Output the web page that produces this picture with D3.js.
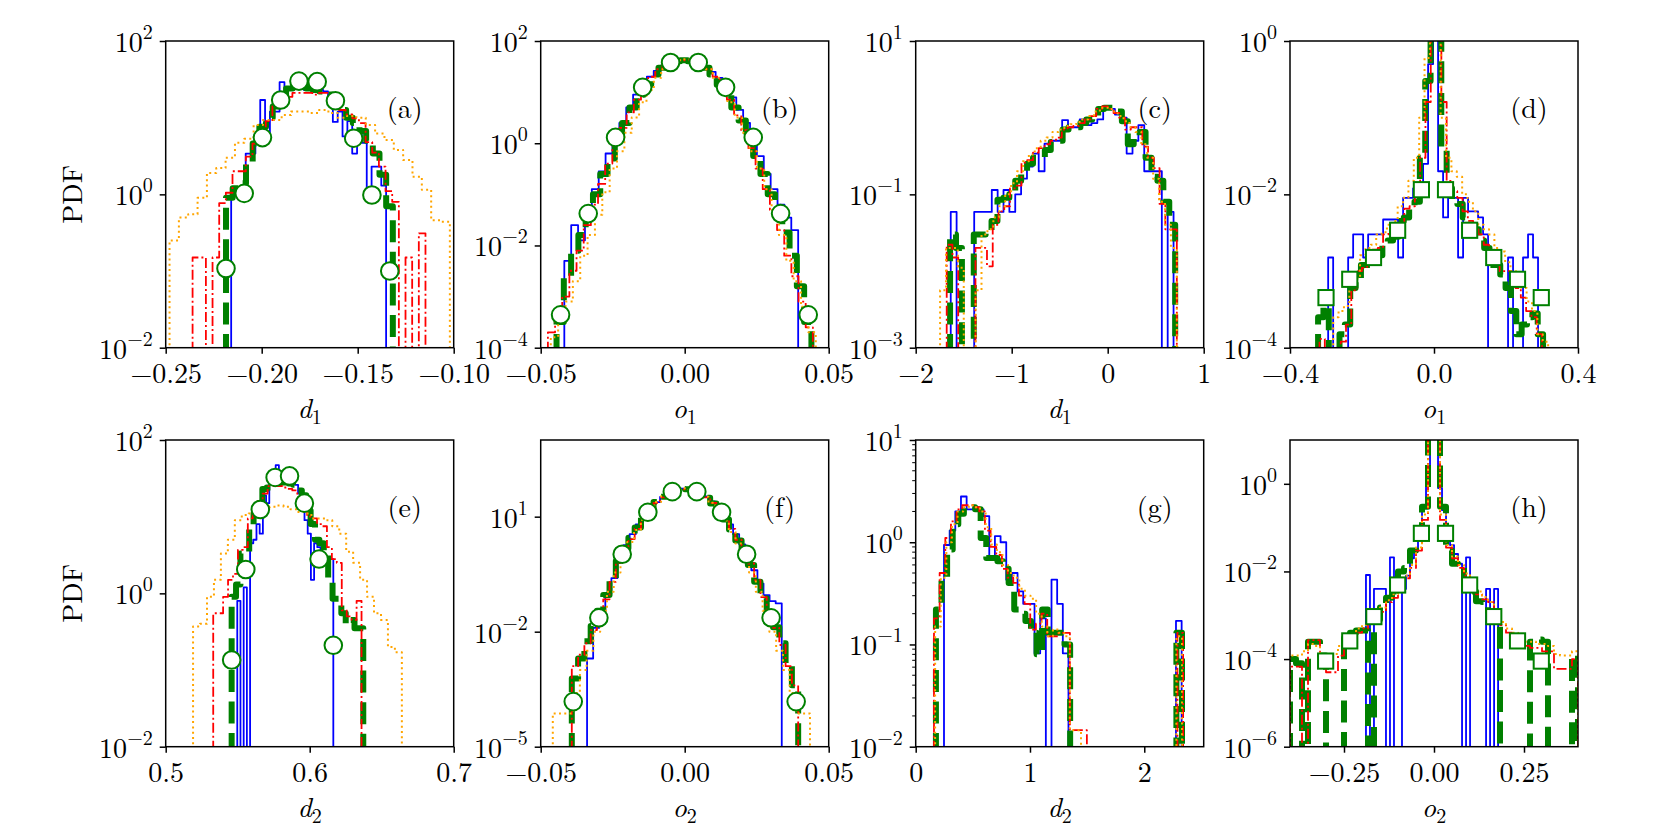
<!DOCTYPE html>
<html>
<head>
<meta charset="utf-8">
<script src="https://cdn.jsdelivr.net/npm/d3@7"></script>
<style>
  body { margin: 0; background: #fff; }
</style>
</head>
<body>
<svg id="fig" width="1661" height="830"></svg>
<script>
// each histogram: bin range [lo, hi] and the PDF value of every bin (0 = empty bin)

// (a) d1
var a_blue = {range: [-0.2159, -0.1352], pdf: [1.0,1.0,1.0,3.4,3.4,5.1,17,5.5,12,12,29,24,24,25,24,23,24,24,23,22,18,8.8,12,5.7,9,3.4,6,4.7,1.0,2.3,2.3,1.3]};
var a_green = {range: [-0.2186, -0.1317], pdf: [0.9,1.2,1.4,2.6,4.6,7.6,10,14,17,24,25,25,24,23,22,20,16,12.6,10,8.5,6.7,5,3.4,1.8,0.7]};
var a_red = {range: [-0.236, -0.1147], pdf: [0.15,0.15,0,0.15,0.77,1.05,2.0,2.0,3.1,4.6,6.2,9,14,15,18.7,21,21,21,20,21,21,19,12.6,11,9.8,8.5,4.8,3.5,2.3,1.1,0.8,0,0.15,0,0.31]};
var a_orange = {range: [-0.248, -0.102], pdf: [0.25,0.5,0.55,0.9,1.9,2.2,3.0,4.7,5.3,8,9.3,9.3,10.8,12,12,11.5,12.6,11.5,10,10.5,10,8,6.2,5.1,3.8,2.8,1.7,1.15,0.46,0.44]};
var aMarkX = [-0.2186,-0.2091,-0.1996,-0.1901,-0.1806,-0.1711,-0.1616,-0.1521,-0.1426,-0.1333];
var aMarkY = [0.108,1.03,5.5,17,30,29.5,16.6,5.4,0.98,0.1];

// (b) o1
var b_blue = {range: [-0.0418, 0.0394], pdf: [0.005,0.025,0.0126,0.056,0.126,0.28,0.63,1.41,2.5,5,8.9,12.6,20,26,33,38,42,42,40,36,32,25,19,13,7.9,4.5,2.5,1.26,0.56,0.25,0.126,0.063,0.035,0.02]};
var b_green = {range: [-0.0445, 0.044], pdf: [3.2e-4,2.5e-3,7.9e-3,0.016,0.04,0.1,0.25,0.5,1.1,2.5,5,8.9,14,22,30,37,40,42,40,37,30,22,14,8.9,5,2.8,1.26,0.56,0.25,0.1,0.04,0.018,6.3e-3,1.6e-3,3.2e-4]};
var b_red = {range: [-0.0475, 0.0445], pdf: [2e-4,4e-4,1e-3,3.2e-3,7.9e-3,0.025,0.063,0.16,0.4,1.0,2.0,4.0,7.1,12.6,20,28,35,40,42,42,40,35,28,20,12.6,7.1,3.5,1.8,0.8,0.32,0.126,0.05,0.02,6.3e-3,2.5e-3,8e-4,2.5e-4]};
var b_orange = {range: [-0.0465, 0.0455], pdf: [1.6e-4,3.2e-4,8e-4,2e-3,6.3e-3,0.016,0.04,0.11,0.32,0.7,1.6,3.2,6.3,11,19,28,36,42,44,42,36,28,19,11,6.3,3.2,1.6,0.7,0.32,0.126,0.05,0.016,5e-3,2e-3,6.3e-4,2e-4]};
var bMarkX = [-0.0431,-0.0335,-0.024,-0.0146,-0.0049,0.0047,0.0142,0.0238,0.0333,0.0429];
var bMarkY = [4.4e-4,0.042,1.3,12.4,38,38,12.4,1.3,0.042,4.4e-4];

// (c) d1
var c_blue = {range: [-1.635, 0.686], pdf: [0.059,0,0,0,0.059,0.059,0.059,0.114,0.059,0.114,0.059,0.1,0.16,0.23,0.34,0.2,0.46,0.5,0.5,0.93,0.75,0.75,0.95,0.8,0.85,0.95,1.4,1.3,1.1,1.0,0.34,0.5,0.8,0.2,0.2,0.2,0,0.059]};
var c_green = {range: [-1.642, 0.703], pdf: [0.03,0.02,0,0,0.03,0.03,0.032,0.045,0.085,0.09,0.1,0.15,0.2,0.25,0.3,0.3,0.38,0.48,0.5,0.7,0.75,0.75,0.85,0.95,1.05,1.3,1.35,1.35,1.2,0.9,0.45,0.55,0.65,0.3,0.17,0.15,0.08,0.04]};
var c_red = {range: [-1.677, 0.72], pdf: [0.022,0.015,0,0,0,0.02,0.02,0.0115,0.04,0.06,0.07,0.12,0.13,0.26,0.28,0.35,0.4,0.45,0.5,0.55,0.7,0.75,0.78,0.85,0.95,1.05,1.3,1.4,1.3,1.15,1.0,0.7,0.75,0.75,0.42,0.3,0.22,0.075,0.035,0.035]};
var c_orange = {range: [-1.746, 0.72], pdf: [0.0056,0.02,0.02,0.011,0,0,0.0056,0.03,0.035,0.05,0.07,0.1,0.14,0.2,0.27,0.33,0.4,0.5,0.55,0.65,0.7,0.78,0.82,0.88,0.95,1.05,1.2,1.35,1.35,1.2,1.05,0.9,0.75,0.65,0.45,0.3,0.16,0.08,0.04,0.02]};

// (d) o1
var d_blue = {range: [-0.294, 0.289], pdf: [1.5e-3,0,0,0,1.5e-3,3e-3,3e-3,1.5e-3,3e-3,3e-3,3e-3,4.7e-3,4.7e-3,4.7e-3,1.5e-3,9e-3,9e-3,0.012,0.012,0.025,0.5,3,0.02,5e-3,9e-3,9e-3,1.5e-3,9e-3,6e-3,6e-3,5e-3,3e-3,0,0,0,0,1.5e-3,0,0,1.5e-3,3e-3,1.5e-3]};
var d_green = {range: [-0.322, 0.303], pdf: [2.5e-4,3.5e-4,0,0,1.5e-4,2e-4,6e-4,8e-4,1.2e-3,1.2e-3,1.5e-3,1.6e-3,2.2e-3,2.5e-3,2.8e-3,4.5e-3,5e-3,7e-3,8e-3,0.03,0.3,3,2,0.04,0.012,8e-3,7.5e-3,5e-3,4e-3,3.5e-3,2.5e-3,2e-3,1.2e-3,1.2e-3,9e-4,6e-4,3e-4,1.5e-4,2e-4,2.5e-4,2.8e-4,1.5e-4]};
var d_red = {range: [-0.318, 0.3], pdf: [1.3e-4,0,0,0,1.2e-4,2e-4,5.6e-4,1e-3,1.1e-3,1.3e-3,1.9e-3,2e-3,3e-3,3.2e-3,3.2e-3,4e-3,6.5e-3,7e-3,0.01,0.03,0.16,3,3,0.16,0.015,0.011,9e-3,6e-3,4.5e-3,3.5e-3,3e-3,2.2e-3,1.9e-3,1.2e-3,1e-3,1e-3,7e-4,6e-4,4.5e-4,3e-4,2.5e-4,1.5e-4]};
var d_orange = {range: [-0.28, 0.317], pdf: [2.5e-4,3e-4,3.5e-4,7e-4,8e-4,1.6e-3,2e-3,2.2e-3,3e-3,3.2e-3,4e-3,4.5e-3,7e-3,9e-3,0.015,0.03,0.1,0.6,3,2,0.1,0.03,0.02,0.017,0.01,8e-3,6e-3,4e-3,3.5e-3,3e-3,2e-3,1.8e-3,1.3e-3,1e-3,8e-4,6e-4,4e-4,3e-4,1.5e-4,1.2e-4]};
var dMarkX = [-0.3,-0.234,-0.168,-0.101,-0.035,0.032,0.099,0.166,0.232,0.298];
var dMarkY = [4.5e-4,7.8e-4,1.5e-3,3.4e-3,0.0115,0.0115,3.4e-3,1.5e-3,7.8e-4,4.5e-4];

// (e) d2
var e_blue = {range: [0.5497, 0.6164], pdf: [0.8,0,1.2,0,4.5,5,8,6,19,15,33,30,47,30,32,28,27,27,26,20,16,9,6,1.5,4.5,4,3,3,2.5,2.8]};
var e_green = {range: [0.5458, 0.6372], pdf: [0.9,1.3,3.3,3.5,7.5,11,12,23,24,27,27,28,28,27,26,22,19,12,8,5,4.5,3.5,1.6,0.85,0.85,0.55,0.4,0.45,0.35,0.35]};
var e_red = {range: [0.533, 0.636], pdf: [0.55,0.55,0.9,1.5,1.8,3.7,4,9.5,14,16,20,25,25,25,24,23,22,18,13.5,10,9.5,8,7.5,4,2.8,2.5,0.6,0.5,0.45,0.8]};
var e_orange = {range: [0.519, 0.664], pdf: [0.37,0.4,0.9,1.5,3.3,5,9,10.5,11,12,12.5,13.5,14,13.5,12.5,11.5,11,9.5,9.5,9,7.5,6,3.5,2.5,1.5,0.9,0.55,0.45,0.2,0.17]};
var eMarkX = [0.5458,0.5556,0.5657,0.576,0.586,0.5963,0.6065,0.6164];
var eMarkY = [0.135,2.05,12.4,32.5,34,15,2.8,0.21];

// (f) o2
var f_blue = {range: [-0.0339, 0.0337], pdf: [2e-3,0.0126,0.032,0.1,0.25,0.7,1.8,3.5,6.3,10,16,24,33,43,50,54,54,50,43,34,25,16.6,10.5,6.3,3.5,1.9,0.9,0.4,0.18,0.09,0.063,0.055]};
var f_green = {range: [-0.0392, 0.0394], pdf: [6e-4,2e-3,5.6e-3,0.014,0.035,0.09,0.25,0.7,1.5,2.8,5.2,9.5,15.5,24,33,43,49,53,52,47,40,31,22,14,8.5,4.6,2.4,1.2,0.55,0.2,0.075,0.03,0.013,5e-3,1.5e-3,4e-4]};
var f_red = {range: [-0.0392, 0.0394], pdf: [1.26e-3,2.5e-3,5e-3,0.011,0.028,0.07,0.2,0.63,1.4,2.6,4.8,8.9,15,23,32,42,48,52,52,48,41,32,23,15,8.9,4.8,2.5,1.3,0.6,0.22,0.08,0.032,0.0126,4.5e-3,1.26e-3,4e-4]};
var f_orange = {range: [-0.0458, 0.0435], pdf: [7.4e-5,7.4e-5,7.4e-5,2.5e-4,1e-3,3.2e-3,0.01,0.035,0.11,0.35,1.0,2.2,4.5,8.3,15,24,34,45,52,55,52,45,33,23,14,7.9,4,2,0.9,0.35,0.11,0.035,0.01,3.2e-3,1e-3,2.5e-4,7.4e-5,7.4e-5]};
var fMarkX = [-0.0387,-0.0298,-0.0217,-0.0128,-0.0043,0.0042,0.0128,0.0215,0.03,0.0387];
var fMarkY = [1.5e-4,0.023,1.05,13,45,45,13,1.05,0.023,1.5e-4];

// (g) d2
var g_blue = {range: [0.2476, 2.327], pdf: [0.94,1.3,2.0,2.8,2.1,2.1,2.1,1.8,0.67,1.15,1.0,0.43,0.5,0.33,0.25,0.25,0.082,0.18,0,0.43,0.25,0.082,0,0,0,0,0,0,0,0,0,0,0,0,0,0,0,0,0,0,0,0.17]};
var g_green = {range: [0.177, 2.33], pdf: [0.22,0.45,0.85,1.5,1.9,2.2,2.2,2.1,1.1,0.7,0.7,0.65,0.55,0.4,0.22,0.2,0.17,0.13,0.08,0.22,0.13,0.13,0.13,0.1,0,0,0,0,0,0,0,0,0,0,0,0,0,0,0,0,0,0,0,0.13]};
var g_red = {range: [0.16, 2.34], pdf: [0.18,0.5,1.1,1.6,2.1,2.3,2.3,2.2,2.0,1.3,0.9,0.75,0.55,0.45,0.4,0.3,0.25,0.14,0.16,0.2,0.12,0.12,0.13,0.13,0.0145,0.0145,0.0145,0,0,0,0,0,0,0,0,0,0,0,0,0,0,0,0,0.13]};
var g_orange = {range: [0.17, 2.33], pdf: [0.15,0.45,1.0,1.5,2.0,2.2,2.3,2.2,2.0,1.4,0.95,0.8,0.6,0.5,0.45,0.35,0.3,0.28,0.2,0.15,0.12,0.14,0.13,0.12,0.0145,0.0145,0,0,0,0,0,0,0,0,0,0,0,0,0,0,0,0,0,0.12]};

// (h) o2
var h_blue = {range: [-0.189, 0.178], pdf: [8.3e-3,0,4e-3,4e-3,4e-3,0,0.021,0,0,4e-3,8e-3,0.02,0.03,0.06,0.3,1.5,20,12,0.8,0.25,0.05,0.04,0.025,0.015,0,0.021,0,0,0,0,4e-3,0,4e-3]};
var h_green = {range: [-0.4, 0.4], pdf: [1e-4,8e-5,0,2.5e-4,2.5e-4,1.2e-4,0,0,0,3e-4,4e-4,4.5e-4,4.5e-4,0,8e-4,1.5e-3,2.5e-3,3.5e-3,0.01,0.012,0.03,0.07,0.3,30,30,0.3,0.03,0.015,0.012,5e-3,3.5e-3,2.1e-3,2e-3,1.2e-3,6e-4,0,0,0,0,0,2.5e-4,2.8e-4,2.5e-4,0,0,0,0,1.2e-4]};
var h_red = {range: [-0.4, 0.4], pdf: [6.7e-5,6.7e-5,0,2.7e-4,2.7e-4,8e-5,5e-5,5e-5,1.2e-4,2.5e-4,3e-4,4e-4,5e-4,7e-4,9e-4,1.2e-3,2e-3,2.5e-3,4.5e-3,7e-3,0.012,0.03,0.15,30,30,0.15,0.035,0.02,0.012,8e-3,5e-3,3e-3,2.3e-3,2e-3,1e-3,6e-4,4e-4,3.5e-4,2.5e-4,2e-4,1.8e-4,1.8e-4,1.5e-4,1.5e-4,6e-5,6e-5,6e-5,1e-4]};
var h_orange = {range: [-0.4, 0.4], pdf: [1.2e-4,1.2e-4,1.5e-4,2.2e-4,2e-4,1.2e-4,1.2e-4,1.3e-4,2e-4,2.5e-4,3.5e-4,5e-4,6e-4,8e-4,1.2e-3,1.5e-3,2.2e-3,3e-3,5e-3,8e-3,0.014,0.035,0.2,30,30,0.2,0.04,0.022,0.014,9e-3,6e-3,3.5e-3,2.6e-3,2e-3,1.2e-3,7e-4,5e-4,4e-4,3e-4,2.5e-4,2.5e-4,2.2e-4,2.2e-4,2e-4,1.3e-4,1.2e-4,1.2e-4,1.5e-4]};
var hMarkX = [-0.301,-0.234,-0.167,-0.101,-0.035,0.032,0.099,0.166,0.232,0.298];
var hMarkY = [9e-5,2.6e-4,9.3e-4,4.9e-3,0.074,0.074,4.9e-3,9.3e-4,2.6e-4,9e-5];

// tick values
var aXTicks = [-0.25, -0.20, -0.15, -0.10];
var bXTicks = [-0.05, 0, 0.05];
var cXTicks = [-2, -1, 0, 1];
var dXTicks = [-0.4, 0, 0.4];
var eXTicks = [0.5, 0.6, 0.7];
var fXTicks = [-0.05, 0, 0.05];
var gXTicks = [0, 1, 2];
var hXTicks = [-0.25, 0, 0.25];

var panels = [
  {tag: '(a)', col: 0, row: 0, xd: [-0.25, -0.10], xt: aXTicks, xf: '.2f', yd: [1e-2, 1e2], ye: [-2, 0, 2], sym: 'd', sub: '1', s: [a_blue, a_green, a_red, a_orange], mx: aMarkX, my: aMarkY, mk: 'o'},
  {tag: '(b)', col: 1, row: 0, xd: [-0.05, 0.05], xt: bXTicks, xf: '.2f', yd: [1e-4, 1e2], ye: [-4, -2, 0, 2], sym: 'o', sub: '1', s: [b_blue, b_green, b_red, b_orange], mx: bMarkX, my: bMarkY, mk: 'o'},
  {tag: '(c)', col: 2, row: 0, xd: [-2, 1], xt: cXTicks, xf: '.0f', yd: [1e-3, 1e1], ye: [-3, -1, 1], sym: 'd', sub: '1', s: [c_blue, c_green, c_red, c_orange], mx: [], my: [], mk: 'o'},
  {tag: '(d)', col: 3, row: 0, xd: [-0.4, 0.4], xt: dXTicks, xf: '.1f', yd: [1e-4, 1e0], ye: [-4, -2, 0], sym: 'o', sub: '1', s: [d_blue, d_green, d_red, d_orange], mx: dMarkX, my: dMarkY, mk: 's'},
  {tag: '(e)', col: 0, row: 1, xd: [0.5, 0.7], xt: eXTicks, xf: '.1f', yd: [1e-2, 1e2], ye: [-2, 0, 2], sym: 'd', sub: '2', s: [e_blue, e_green, e_red, e_orange], mx: eMarkX, my: eMarkY, mk: 'o'},
  {tag: '(f)', col: 1, row: 1, xd: [-0.05, 0.05], xt: fXTicks, xf: '.2f', yd: [1e-5, 1e3], ye: [-5, -2, 1], sym: 'o', sub: '2', s: [f_blue, f_green, f_red, f_orange], mx: fMarkX, my: fMarkY, mk: 'o'},
  {tag: '(g)', col: 2, row: 1, xd: [0, 2.52], xt: gXTicks, xf: '.0f', yd: [1e-2, 1e1], ye: [-2, -1, 0, 1], minor: true, sym: 'd', sub: '2', s: [g_blue, g_green, g_red, g_orange], mx: [], my: [], mk: 'o'},
  {tag: '(h)', col: 3, row: 1, xd: [-0.4, 0.4], xt: hXTicks, xf: '.2f', yd: [1e-6, 1e1], ye: [-6, -4, -2, 0], sym: 'o', sub: '2', s: [h_blue, h_green, h_red, h_orange], mx: hMarkX, my: hMarkY, mk: 's'}
];

// layout
var L = [165.7, 540.7, 915.7, 1290], T = [41, 440], W = 288, H = 306.7;
var FONT = 28, SMALL = 20;
var FAMILY = '"Latin Modern Roman", "Liberation Serif", serif';

// blue, green, red, orange in drawing order
var styles = [
  {c: 'blue', w: 1.8, d: null},
  {c: 'green', w: 6, d: '22,9.6'},
  {c: 'red', w: 1.8, d: '10,3,2,3'},
  {c: 'orange', w: 2, d: '2,3.3'}
];

function stepPoints(s, x, y) {
  var lo = s.range[0], hi = s.range[1];
  var n = s.pdf.length, w = (hi - lo) / n;
  var below = H + 40;
  var pts = [[x(lo), below]];
  s.pdf.forEach(function(v, i) {
    var yy = v > 0 ? y(v) : below;
    pts.push([x(lo + i * w), yy], [x(lo + (i + 1) * w), yy]);
  });
  pts.push([x(hi), below]);
  return pts;
}

var svg = d3.select('#fig');
svg.append('rect').attr('width', 1661).attr('height', 830).attr('fill', '#fff');
var line = d3.line();

panels.forEach(function(p, pi) {
  var x0 = L[p.col], y0 = T[p.row];
  var x = d3.scaleLinear().domain(p.xd).range([0, W]);
  var y = d3.scaleLog().domain(p.yd).range([H, 0]);
  var g = svg.append('g').attr('transform', 'translate(' + x0 + ',' + y0 + ')');

  var cid = 'clip' + pi;
  g.append('clipPath').attr('id', cid)
    .append('rect').attr('width', W).attr('height', H);
  var plot = g.append('g').attr('clip-path', 'url(#' + cid + ')');

  p.s.forEach(function(s, i) {
    var st = styles[i];
    plot.append('path')
      .attr('d', line(stepPoints(s, x, y)))
      .attr('fill', 'none')
      .attr('stroke', st.c)
      .attr('stroke-width', st.w)
      .attr('stroke-dasharray', st.d)
      .attr('stroke-linejoin', 'round');
  });

  var marks = g.append('g')
    .attr('fill', '#fff')
    .attr('stroke', 'green')
    .attr('stroke-width', 2);
  p.mx.forEach(function(mx, i) {
    var cx = x(mx), cy = y(p.my[i]);
    if (p.mk === 'o') {
      marks.append('circle').attr('cx', cx).attr('cy', cy).attr('r', 8.8);
    } else {
      marks.append('rect').attr('x', cx - 7.6).attr('y', cy - 7.6)
        .attr('width', 15.2).attr('height', 15.2);
    }
  });

  // x axis
  var xa = g.append('g').attr('transform', 'translate(0,' + H + ')')
    .call(d3.axisBottom(x).tickValues(p.xt).tickFormat(d3.format(p.xf))
      .tickSize(6).tickPadding(9).tickSizeOuter(0));
  xa.select('.domain').remove();
  xa.selectAll('line').attr('stroke', '#000').attr('stroke-width', 1.5);
  xa.selectAll('text').attr('font-size', FONT).attr('fill', '#000');

  // y axis: decade ticks, labels as 10^n
  var ya = g.append('g')
    .call(d3.axisLeft(y).tickValues(p.ye.map(function(e) { return Math.pow(10, e); }))
      .tickFormat(function() { return ''; }).tickSize(6).tickSizeOuter(0));
  ya.select('.domain').remove();
  ya.selectAll('line').attr('stroke', '#000').attr('stroke-width', 1.5);

  if (p.minor) {
    var minors = [];
    for (var e = Math.round(Math.log10(p.yd[0])); e < Math.round(Math.log10(p.yd[1])); e++) {
      for (var m = 2; m < 10; m++) minors.push(m * Math.pow(10, e));
    }
    g.append('g').selectAll('line').data(minors).enter().append('line')
      .attr('x1', -3.5).attr('x2', 0)
      .attr('y1', function(d) { return y(d); })
      .attr('y2', function(d) { return y(d); })
      .attr('stroke', '#000').attr('stroke-width', 1);
  }

  p.ye.forEach(function(e) {
    var t = g.append('text')
      .attr('x', -13)
      .attr('y', y(Math.pow(10, e)) + 11)
      .attr('text-anchor', 'end')
      .attr('font-size', FONT);
    t.append('tspan').text('10');
    t.append('tspan').attr('dy', -13).attr('font-size', SMALL)
      .text(String(e).replace('-', '\u2212'));
  });

  // frame
  g.append('rect').attr('width', W).attr('height', H)
    .attr('fill', 'none').attr('stroke', '#000').attr('stroke-width', 1.5);

  // x label
  var xl = g.append('text')
    .attr('x', W / 2).attr('y', H + 70)
    .attr('text-anchor', 'middle')
    .attr('font-size', FONT);
  xl.append('tspan').attr('font-style', 'italic').text(p.sym);
  xl.append('tspan').attr('dy', 6).attr('font-size', SMALL).text(p.sub);

  // panel tag
  g.append('text')
    .attr('x', 239).attr('y', 77)
    .attr('text-anchor', 'middle')
    .attr('font-size', FONT)
    .text(p.tag);

  if (p.col === 0) {
    g.append('text')
      .attr('transform', 'translate(' + (82 - x0) + ',' + (H / 2) + ') rotate(-90)')
      .attr('text-anchor', 'middle')
      .attr('font-size', FONT)
      .text('PDF');
  }
});

// inline style so the axis groups' own font attributes do not win
svg.selectAll('text').style('font-family', FAMILY).style('fill', '#000');
</script>
</body>
</html>
